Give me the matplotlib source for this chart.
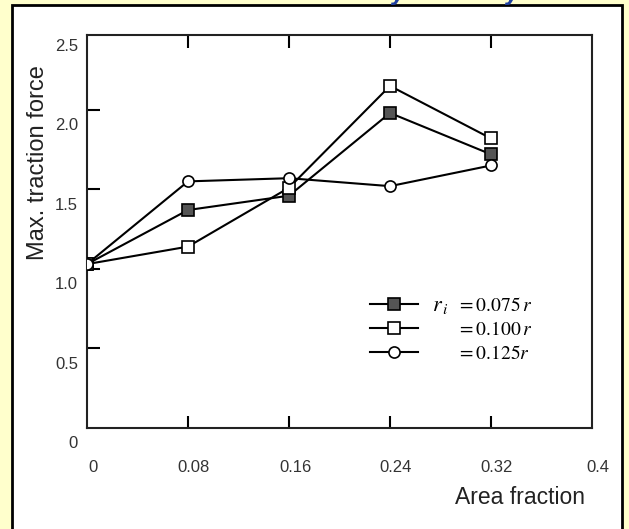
import numpy as np
import matplotlib.pyplot as plt
from matplotlib.patches import Rectangle
from matplotlib.transforms import ScaledTranslation, blended_transform_factory

plt.rcParams['mathtext.fontset'] = 'stix'

# area fraction and maximum traction force for three inclusion radii
area = [0, 0.08, 0.16, 0.24, 0.32]
f_075 = [1.03, 1.37, 1.46, 1.98, 1.72]
f_100 = [1.03, 1.14, 1.51, 2.15, 1.82]
f_125 = [1.03, 1.55, 1.57, 1.52, 1.65]

xticks = [0, 0.08, 0.16, 0.24, 0.32, 0.4]
xticklabels = ['0', '0.08', '0.16', '0.24', '0.32', '0.4']
yticks = [0, 0.5, 1.0, 1.5, 2.0, 2.5]
yticklabels = ['0', '0.5', '1.0', '1.5', '2.0', '2.5']
radius_labels = [r'$=0.075\,r$', r'$=0.100\,r$', r'$=0.125r$']

fig = plt.figure(figsize=(6.29, 5.29), dpi=100)
fig.patch.set_facecolor('#FFFFCC')

# white panel with black frame, behind the axes
panel = Rectangle((12 / 629, -0.05), 610 / 629, 1 - 5 / 529 + 0.05, transform=fig.transFigure,
                  facecolor='white', edgecolor='black', linewidth=2, zorder=-5)
fig.patches.append(panel)

# clipped heading fragments at the very top
for xp in (398, 512):
    fig.text(xp / 629, 1 - 1 / 529, 'y', color='#2040A0', fontsize=15, fontweight='bold',
             style='italic', ha='center', va='baseline', family='DejaVu Sans', zorder=-4)

ax = fig.add_axes([87 / 629, 1 - 428 / 529, 505 / 629, 393 / 529])
ax.set_facecolor('none')
ax.set_xlim(0, 0.4)
ax.set_ylim(0, 2.47)

kw = dict(color='black', linewidth=1.5, markersize=8, markeredgewidth=1.2, markeredgecolor='black')
l1, = ax.plot(area, f_075, marker='s', markerfacecolor='#555555', zorder=3, **kw)
l2, = ax.plot(area, f_100, marker='s', markerfacecolor='white', zorder=3, **kw)
l3, = ax.plot(area, f_125, marker='o', markerfacecolor='white', zorder=3, **kw)

for s in ax.spines.values():
    s.set_linewidth(1.5)
    s.set_color('#222222')

ax.set_xticks([0.08, 0.16, 0.24, 0.32])
ax.set_yticks([0.5, 1.0, 1.5, 2.0])
ax.tick_params(direction='in', length=9, width=1.5, top=True, right=False,
               labelbottom=False, labelleft=False)

font = dict(family='Liberation Sans', fontsize=12, color='#333333')
# tick labels, set a little apart from the frame
tx = blended_transform_factory(ax.transData, ax.transAxes)
for v, t in zip(xticks, xticklabels):
    ax.text(v, 0, t, transform=tx + ScaledTranslation(6 / 100, -40 / 100, fig.dpi_scale_trans),
            ha='center', va='center', **font)
ty = blended_transform_factory(ax.transAxes, ax.transData)
for v, t in zip(yticks, yticklabels):
    ax.text(0, v, t, transform=ty + ScaledTranslation(-9 / 100, -16 / 100, fig.dpi_scale_trans),
            ha='right', va='center', **font)

fig.text(38 / 629, 1 - 163 / 529, 'Max. traction force', rotation=90, ha='center', va='center',
         family='Liberation Sans', fontsize=17, color='#222222')
fig.text(520 / 629, 1 - 497 / 529, 'Area fraction', ha='center', va='center',
         family='Liberation Sans', fontsize=16.5, color='#222222')

ax.legend([l1, l2, l3], radius_labels, loc='upper left', bbox_to_anchor=(0.56, 0.336),
          frameon=False, handlelength=2.5, labelspacing=0.25, handletextpad=2.0,
          borderpad=0, borderaxespad=0, prop={'size': 14})
ax.text(0.683, 0.31, r'$r_{\,i}$', transform=ax.transAxes, fontsize=16, va='center', ha='left')

fig.savefig('out.png', dpi=100, facecolor=fig.get_facecolor())
